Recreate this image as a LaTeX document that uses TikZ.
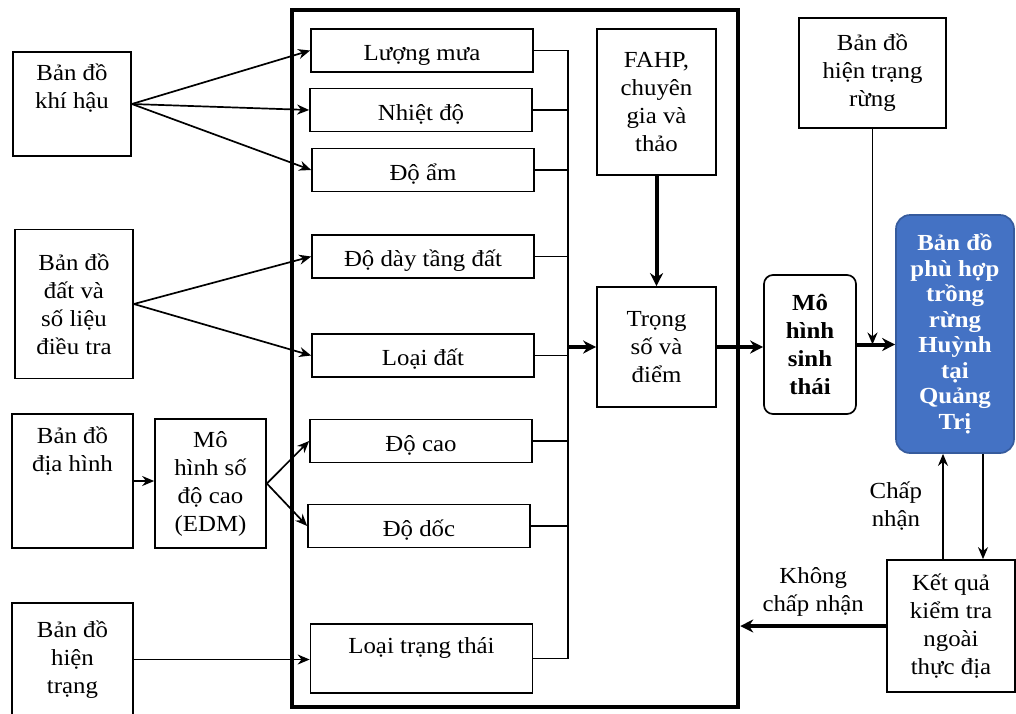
\documentclass[tikz,border=0pt]{standalone}
\usepackage{fontspec}
\setmainfont{Liberation Serif}[FakeStretch=1.08]
\usetikzlibrary{arrows.meta}
\definecolor{xanh}{HTML}{4472C4}

\begin{document}
\begin{tikzpicture}[x=1pt, y=-1pt,
    hop/.style={draw, line width=1.7pt, align=center, inner sep=2pt, font=\fontsize{23}{28}\selectfont},
    con/.style={hop, minimum width=222pt, minimum height=43pt, text height=25pt, text depth=5pt},
    nhan/.style={align=center, inner sep=2pt, font=\fontsize{23}{28}\selectfont},
    mui/.style={->, line width=1.7pt, >={Stealth[length=12pt, width=10pt]}},
    muiday/.style={->, line width=4pt, >={Stealth[length=13pt, width=13pt]}}]

    \useasboundingbox (0,0) rectangle (1016,713);

    % Khung lon
    \node[draw, line width=4.5pt, minimum width=446pt, minimum height=697pt] (khung) at (515,358.5) {};

    % Cot trai
    \node[hop, minimum width=118pt, minimum height=104pt] (khihau) at (72,104) {Bản đồ\\khí hậu\\\strut};
    \node[hop, minimum width=118pt, minimum height=149pt] (dat) at (74,304) {Bản đồ\\đất và\\số liệu\\điều tra};
    \node[hop, minimum width=121pt, minimum height=134pt] (diahinh) at (72.5,481) {Bản đồ\\địa hình\\\strut\\\strut};
    \node[hop, minimum width=111pt, minimum height=129pt] (edm) at (210.5,483.5) {Mô\\hình số\\độ cao\\(EDM)};
    \node[hop, minimum width=121pt, minimum height=113pt] (hientrang) at (72.5,659.5) {Bản đồ\\hiện\\trạng};

    % Trong khung
    \node[con] (luongmua) at (422,50.5) {Lượng mưa};
    \node[con] (nhietdo) at (421,110) {Nhiệt độ};
    \node[con] (doam) at (423,170) {Độ ẩm};
    \node[con] (doday) at (423,256.5) {Độ dày tầng đất};
    \node[con] (loaidat) at (423,355.5) {Loại đất};
    \node[con] (docao) at (421,441) {Độ cao};
    \node[con] (dodoc) at (419,526) {Độ dốc};
    \node[con, minimum height=69pt, text height=10pt, text depth=20pt] (trangthai) at (421.5,658.5) {Loại trạng thái};

    \node[hop, minimum width=119pt, minimum height=146pt] (fahp) at (656.5,102) {FAHP,\\chuyên\\gia và\\thảo};
    \node[hop, minimum width=119pt, minimum height=120pt] (trongso) at (656.5,347) {Trọng\\số và\\điểm};

    % Ben phai
    \node[hop, rounded corners=9pt, minimum width=92pt, minimum height=139pt,
        font=\fontsize{23}{28}\selectfont\bfseries] (mohinh) at (810,344.5) {Mô\\hình\\sinh\\thái};
    \node[hop, minimum width=147pt, minimum height=110pt] (hientrangrung) at (872.5,73) {Bản đồ\\hiện trạng\\rừng};
    \node[hop, draw=xanh!80!black, fill=xanh, text=white, rounded corners=14pt, minimum width=118pt,
        minimum height=238pt, font=\fontsize{23}{25.5}\selectfont\bfseries] (phuhop) at (955,334)
        {Bản đồ\\phù hợp\\trồng\\rừng\\Huỳnh\\tại\\Quảng\\Trị};
    \node[hop, minimum width=128pt, minimum height=132pt] (ketqua) at (951,626) {Kết quả\\kiểm tra\\ngoài\\thực địa};

    % Mui ten ben trai
    \draw[mui] (khihau.east) -- (luongmua.west);
    \draw[mui] (khihau.east) -- (nhietdo.west);
    \draw[mui] (khihau.east) -- (doam.west);
    \draw[mui] (dat.east) -- (doday.west);
    \draw[mui] (dat.east) -- (loaidat.west);
    \draw[mui] (diahinh.east) -- (diahinh.east -| edm.west);
    \draw[mui] (edm.east) -- (docao.west);
    \draw[mui] (edm.east) -- (dodoc.west);
    \draw[mui] (hientrang.east) -- (hientrang.east -| trangthai.west);

    % Thanh gop
    \coordinate (gop) at (568,347);
    \draw[line width=1.7pt] (luongmua.east) -- (luongmua.east -| gop) -- (trangthai.east -| gop) -- (trangthai.east);
    \foreach \n in {nhietdo, doam, doday, loaidat, docao, dodoc}
        \draw[line width=1.7pt] (\n.east) -- (\n.east -| gop);

    % Mui ten dam
    \draw[muiday] (gop) -- (trongso.west);
    \draw[muiday] (fahp.south) -- (trongso.north);
    \draw[muiday] (trongso.east) -- (trongso.east -| mohinh.west);
    \draw[muiday] (mohinh.east) -- (mohinh.east -| phuhop.west);
    \draw[mui] (hientrangrung.south) -- (hientrangrung.south |- mohinh.east);

    % Kiem tra
    \draw[mui] ([xshift=-8pt]ketqua.north) -- ([xshift=-8pt]ketqua.north |- phuhop.south)
        node[midway, left=18pt, nhan] {Chấp\\nhận};
    \draw[mui] ([xshift=28pt]phuhop.south) -- ([xshift=28pt]phuhop.south |- ketqua.north);
    \draw[muiday] (ketqua.west) -- (ketqua.west -| khung.east)
        node[midway, above=6pt, nhan] {Không\\chấp nhận};

\end{tikzpicture}
\end{document}
